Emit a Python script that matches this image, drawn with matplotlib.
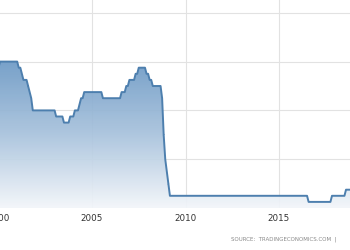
import numpy as np
import matplotlib.pyplot as plt
from matplotlib.colors import LinearSegmentedColormap

# UK bank rate: month of each change (year, month) and the new rate in %
change_years = [1999, 1999, 1999, 1999, 1999, 1999, 2000, 2000,
                2001, 2001, 2001, 2001, 2001, 2001, 2001,
                2003, 2003, 2003, 2004, 2004, 2004, 2004,
                2005, 2006, 2006, 2007, 2007, 2007, 2007,
                2008, 2008, 2008, 2008, 2008, 2009, 2009, 2009,
                2016, 2017, 2018]
change_months = [1, 2, 4, 6, 9, 11, 1, 2,
                 2, 4, 5, 8, 9, 10, 11,
                 2, 7, 11, 2, 5, 6, 8,
                 8, 8, 11, 1, 5, 7, 12,
                 2, 4, 10, 11, 12, 1, 2, 3,
                 8, 11, 8]
rates = [6.0, 5.5, 5.25, 5.0, 5.25, 5.5, 5.75, 6.0,
         5.75, 5.5, 5.25, 5.0, 4.75, 4.5, 4.0,
         3.75, 3.5, 3.75, 4.0, 4.25, 4.5, 4.75,
         4.5, 4.75, 5.0, 5.25, 5.5, 5.75, 5.5,
         5.25, 5.0, 4.5, 3.0, 2.0, 1.5, 1.0, 0.5,
         0.25, 0.5, 0.75]
last_date = 2019.0
x_ticks = [2000, 2005, 2010, 2015]
y_grid = [0, 2, 4, 6, 8]

# monthly line: each change moves over one month
t = [y + (m - 1) / 12 for y, m in zip(change_years, change_months)]
xs, ys = [t[0]], [rates[0]]
for i in range(1, len(t)):
    xs += [t[i] - 1 / 12, t[i]]
    ys += [rates[i - 1], rates[i]]
xs.append(last_date)
ys.append(rates[-1])
xs = np.array(xs)
ys = np.array(ys)

fig = plt.figure(figsize=(3.5, 2.5), dpi=100)
W, H = 350, 250
ppy = 18.7          # pixels per year
ppu = 24.4          # pixels per percent
left_px, right_px = -40, 390
bottom_px, top_px = 208, -10
ax = fig.add_axes([left_px / W, (H - bottom_px) / H,
                   (right_px - left_px) / W, (bottom_px - top_px) / H])
x0 = 2000 + (left_px + 1.5) / ppy
x1 = 2000 + (right_px + 1.5) / ppy
ymax = (bottom_px - top_px) / ppu
ax.set_xlim(x0, x1)
ax.set_ylim(0, ymax)

# grid sits behind the fill
for v in y_grid:
    ax.axhline(v, color='#e2e2e2', lw=0.8, zorder=0)
for v in x_ticks:
    ax.axvline(v, color='#e2e2e2', lw=0.8, zorder=0)

# gradient fill under the line
cmap = LinearSegmentedColormap.from_list('fill', ['#f3f6fa', '#a9c3dd', '#6f9bc6', '#5e8ebf'])
grad = np.linspace(0, 1, 256).reshape(-1, 1)
poly = ax.fill_between(xs, ys, 0, color='none', lw=0)
img = ax.imshow(grad, cmap=cmap, origin='lower', aspect='auto',
                extent=[x0, x1, 0, ymax], zorder=1, alpha=0.93,
                vmin=0, vmax=1)
img.set_clip_path(poly.get_paths()[0], transform=ax.transData)
ax.plot(xs, ys, color='#4d7fae', lw=1.4, zorder=3, solid_joinstyle='round')

ax.set_xticks(x_ticks)
ax.set_xticklabels([str(x) for x in x_ticks])
ax.set_yticks([])
for s in ax.spines.values():
    s.set_visible(False)
ax.tick_params(axis='x', length=0, labelsize=6.3, labelcolor='#333333', pad=4)

fig.text(0.963, 0.044, 'SOURCE:  TRADINGECONOMICS.COM  |', ha='right', va='center',
         fontsize=4.0, color='#888888')

fig.savefig('out.png', dpi=100)
